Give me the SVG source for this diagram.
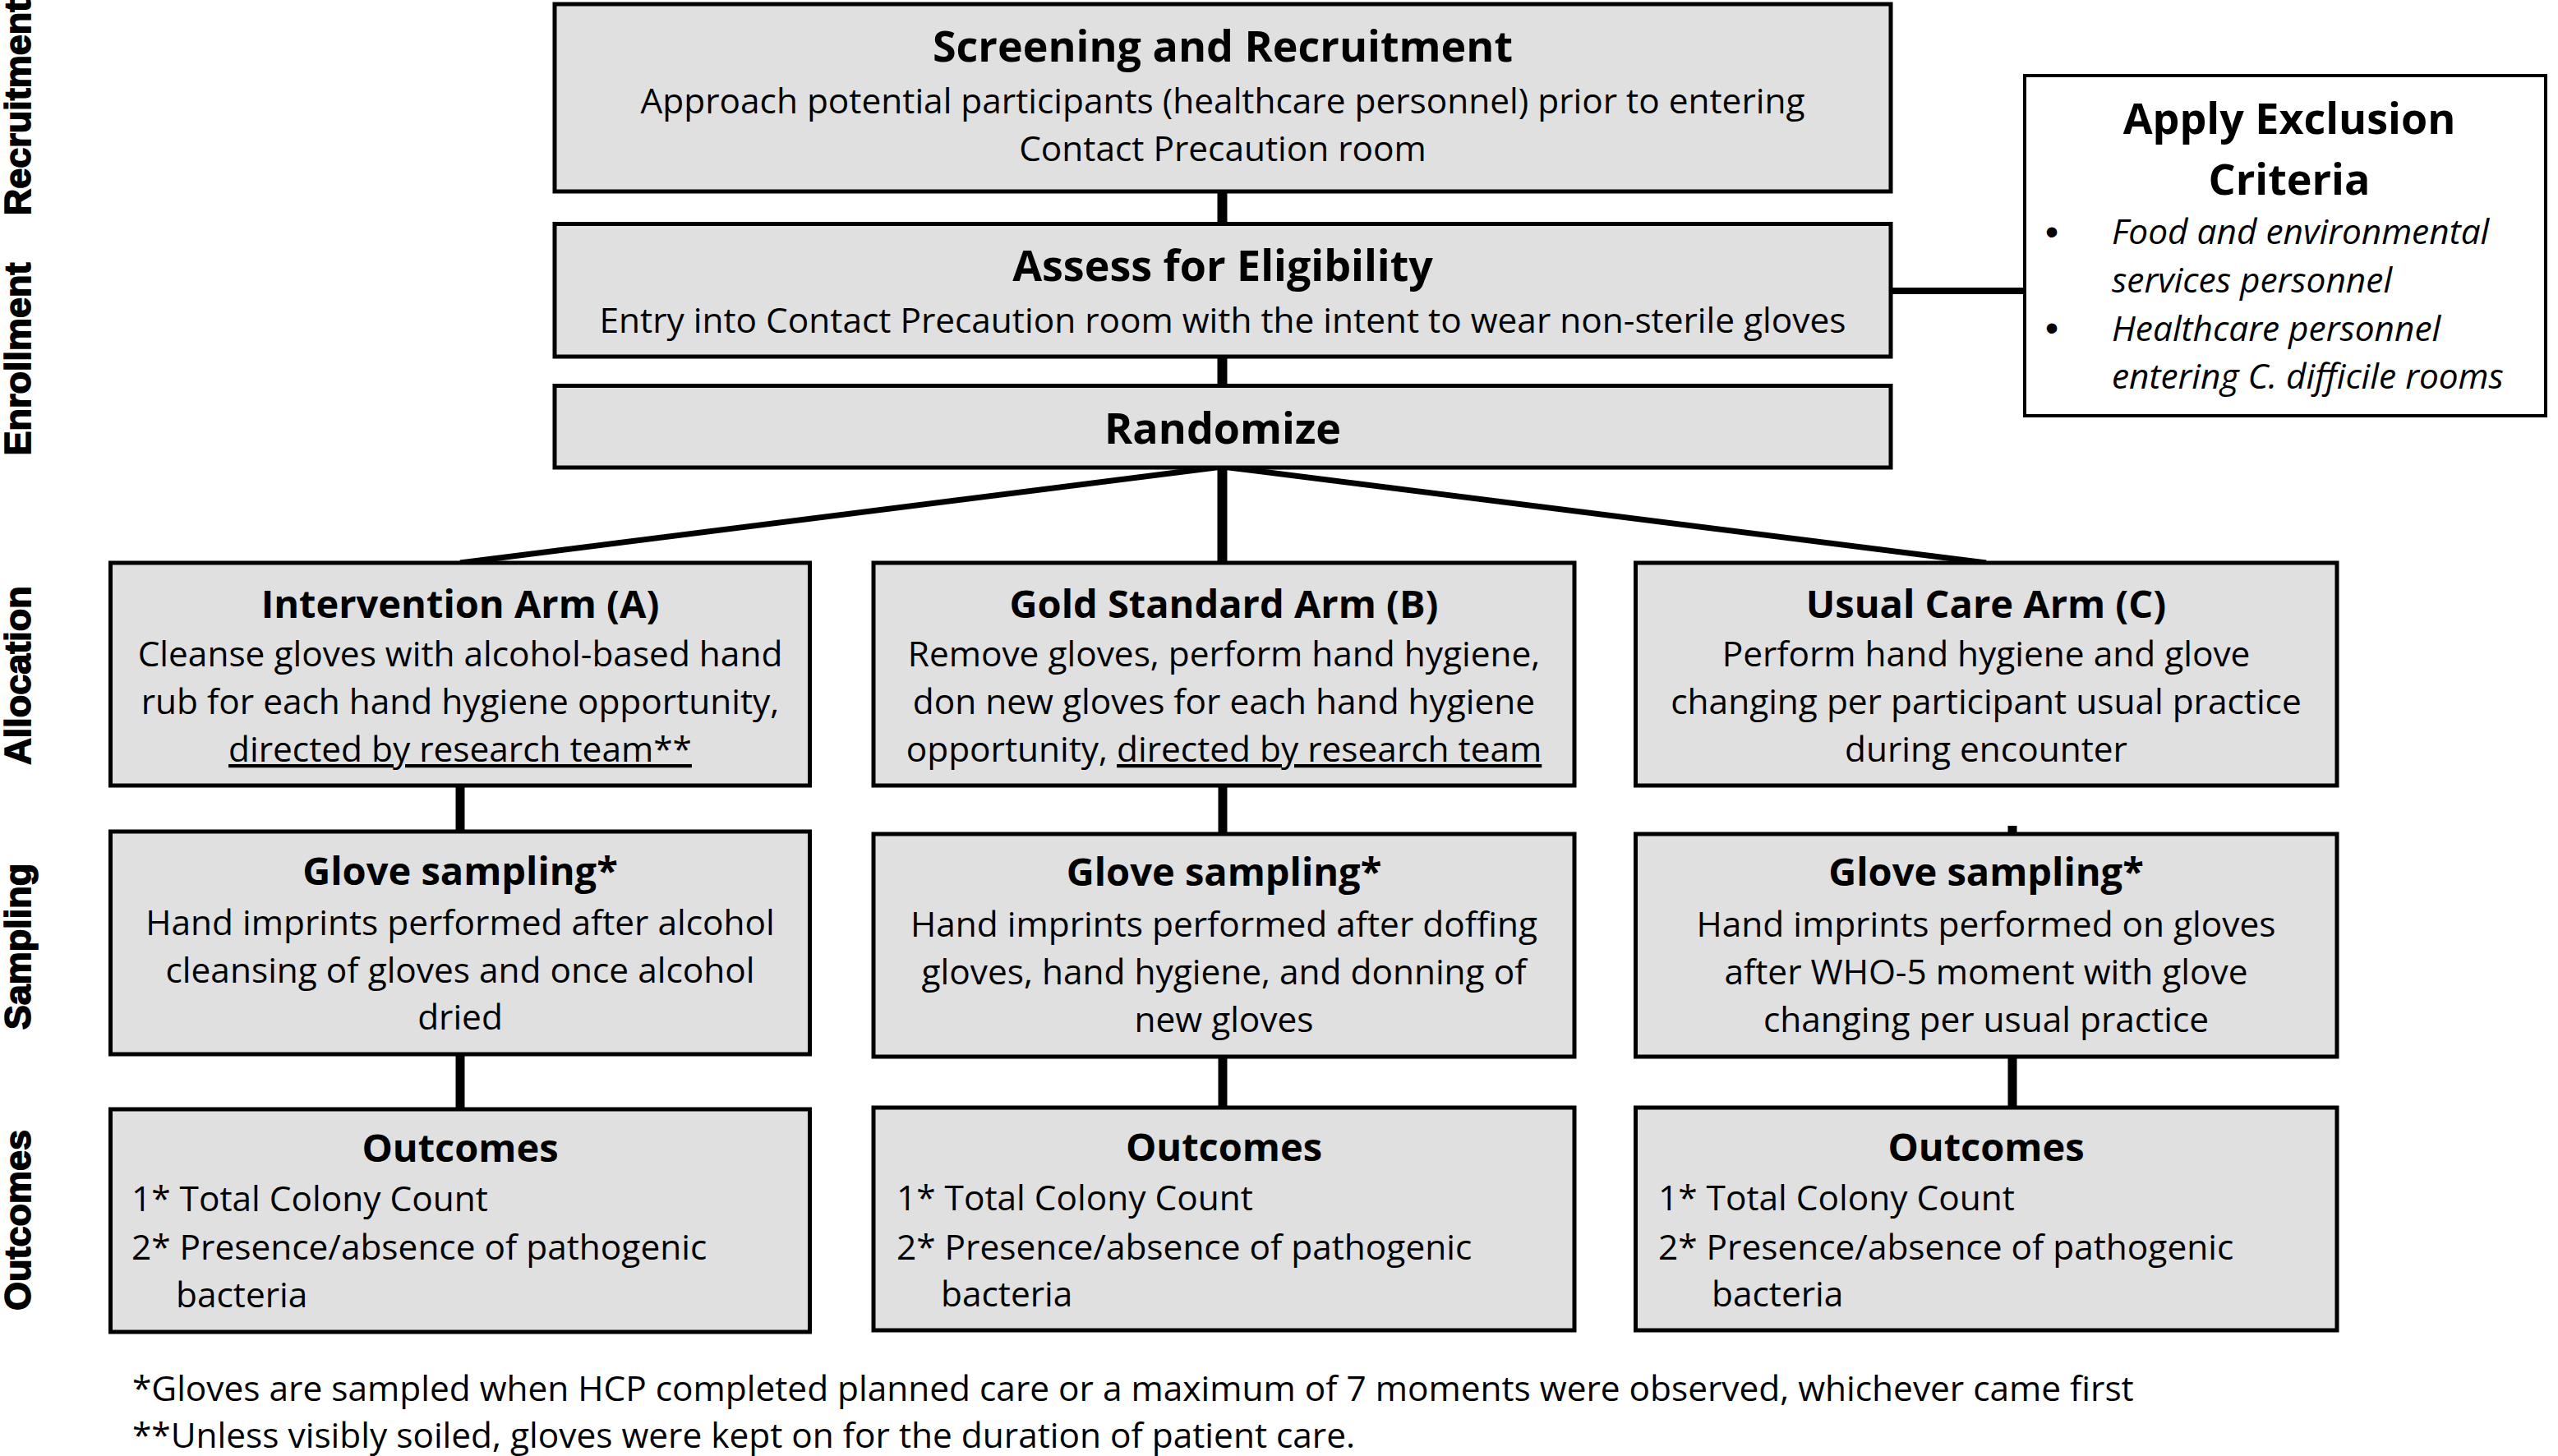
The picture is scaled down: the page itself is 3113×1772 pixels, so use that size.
<svg xmlns="http://www.w3.org/2000/svg" width="3113" height="1772" viewBox="0 0 3113 1772">
<style>
.box{fill:#e0e0e0;stroke:#000;stroke-width:5}
.ex{fill:#fff;stroke:#000;stroke-width:4}
text{font-family:"Open Sans","Noto Sans",sans-serif;fill:#000}
.h1{font-size:52px;font-weight:700;text-anchor:middle}
.h2{font-size:47px;font-weight:700;text-anchor:middle}
.b{font-size:42.4px;text-anchor:middle}
.bl{font-size:42.4px}
.it{font-size:42.4px;font-style:italic}
.dot{font-family:"Liberation Sans",Arial,sans-serif;font-size:46px;text-anchor:middle}
.lab{font-family:"Liberation Sans",Arial,sans-serif;font-size:45px;font-weight:700;text-anchor:middle;stroke:#000;stroke-width:1.6}
.u{text-decoration:underline}
.c{stroke:#000;fill:none}
</style>
<rect width="3113" height="1772" fill="#fff"/>

<g id="stage-labels">
<text class="lab" transform="translate(37,131) rotate(-90)">Recruitment</text>
<text class="lab" transform="translate(37,437) rotate(-90)">Enrollment</text>
<text class="lab" transform="translate(37,822) rotate(-90)">Allocation</text>
<text class="lab" transform="translate(37,1152) rotate(-90)">Sampling</text>
<text class="lab" transform="translate(37,1485) rotate(-90)">Outcomes</text>
</g>

<g id="connectors">
<line class="c" x1="1487.5" y1="233" x2="1487.5" y2="273" stroke-width="12"/>
<line class="c" x1="1487.5" y1="434" x2="1487.5" y2="470" stroke-width="12"/>
<line class="c" x1="2301" y1="354" x2="2464" y2="354" stroke-width="8"/>
<line class="c" x1="1487.5" y1="569" x2="1487.5" y2="685" stroke-width="12"/>
<line class="c" x1="1487.5" y1="568" x2="560" y2="685" stroke-width="7"/>
<line class="c" x1="1487.5" y1="568" x2="2417" y2="685" stroke-width="7"/>
<line class="c" x1="560" y1="956" x2="560" y2="1013" stroke-width="11"/>
<line class="c" x1="560" y1="1284" x2="560" y2="1349" stroke-width="11"/>
<line class="c" x1="1488" y1="956" x2="1488" y2="1015" stroke-width="11"/>
<line class="c" x1="1488" y1="1286" x2="1488" y2="1348" stroke-width="11"/>
<line class="c" x1="2449" y1="1005" x2="2449" y2="1015" stroke-width="11"/>
<line class="c" x1="2449" y1="1286" x2="2449" y2="1348" stroke-width="11"/>
</g>

<g id="screening">
<rect class="box" x="675" y="5" width="1626" height="228"/>
<text class="h1" x="1488" y="75">Screening and Recruitment</text>
<text class="b" x="1488" y="138">Approach potential participants (healthcare personnel) prior to entering</text>
<text class="b" x="1488" y="196">Contact Precaution room</text>
</g>

<g id="eligibility">
<rect class="box" x="675" y="272.5" width="1626" height="161.5"/>
<text class="h1" x="1488" y="342">Assess for Eligibility</text>
<text class="b" x="1488" y="405">Entry into Contact Precaution room with the intent to wear non-sterile gloves</text>
</g>

<g id="randomize">
<rect class="box" x="675" y="469.5" width="1626" height="99.5"/>
<text class="h1" x="1488" y="540">Randomize</text>
</g>

<g id="exclusion">
<rect class="ex" x="2464" y="92" width="634" height="414"/>
<text class="h1" x="2786" y="163">Apply Exclusion</text>
<text class="h1" x="2786" y="237">Criteria</text>
<text class="dot" x="2497" y="298">•</text>
<text class="it" x="2570" y="297">Food and environmental</text>
<text class="it" x="2570" y="356">services personnel</text>
<text class="dot" x="2497" y="415">•</text>
<text class="it" x="2570" y="415">Healthcare personnel</text>
<text class="it" x="2570" y="473">entering C. difficile rooms</text>
</g>

<g id="arm-a">
<rect class="box" x="134.5" y="685" width="851" height="271"/>
<text class="h2" x="560" y="752">Intervention Arm (A)</text>
<text class="b" x="560" y="811">Cleanse gloves with alcohol-based hand</text>
<text class="b" x="560" y="869">rub for each hand hygiene opportunity,</text>
<text class="b" x="560" y="927"><tspan class="u">directed by research team**</tspan></text>
</g>

<g id="arm-b">
<rect class="box" x="1063" y="685" width="853" height="271"/>
<text class="h2" x="1489.5" y="752">Gold Standard Arm (B)</text>
<text class="b" x="1489.5" y="811">Remove gloves, perform hand hygiene,</text>
<text class="b" x="1489.5" y="869">don new gloves for each hand hygiene</text>
<text class="b" x="1489.5" y="927">opportunity, <tspan class="u">directed by research team</tspan></text>
</g>

<g id="arm-c">
<rect class="box" x="1990.5" y="685" width="853.5" height="271"/>
<text class="h2" x="2417" y="752">Usual Care Arm (C)</text>
<text class="b" x="2417" y="811">Perform hand hygiene and glove</text>
<text class="b" x="2417" y="869">changing per participant usual practice</text>
<text class="b" x="2417" y="927">during encounter</text>
</g>

<g id="sampling-a">
<rect class="box" x="134.5" y="1012" width="851" height="271"/>
<text class="h2" x="560" y="1077">Glove sampling*</text>
<text class="b" x="560" y="1138">Hand imprints performed after alcohol</text>
<text class="b" x="560" y="1196">cleansing of gloves and once alcohol</text>
<text class="b" x="560" y="1253">dried</text>
</g>

<g id="sampling-b">
<rect class="box" x="1063" y="1015" width="853" height="271"/>
<text class="h2" x="1489.5" y="1078">Glove sampling*</text>
<text class="b" x="1489.5" y="1140">Hand imprints performed after doffing</text>
<text class="b" x="1489.5" y="1198">gloves, hand hygiene, and donning of</text>
<text class="b" x="1489.5" y="1256">new gloves</text>
</g>

<g id="sampling-c">
<rect class="box" x="1990.5" y="1015" width="853.5" height="271"/>
<text class="h2" x="2417" y="1078">Glove sampling*</text>
<text class="b" x="2417" y="1140">Hand imprints performed on gloves</text>
<text class="b" x="2417" y="1198">after WHO-5 moment with glove</text>
<text class="b" x="2417" y="1256">changing per usual practice</text>
</g>

<g id="outcomes-a">
<rect class="box" x="134.5" y="1350" width="851" height="271"/>
<text class="h2" x="560" y="1414">Outcomes</text>
<text class="bl" x="160" y="1474">1* Total Colony Count</text>
<text class="bl" x="160" y="1533">2* Presence/absence of pathogenic</text>
<text class="bl" x="214" y="1591">bacteria</text>
</g>

<g id="outcomes-b">
<rect class="box" x="1063" y="1348" width="853" height="271"/>
<text class="h2" x="1489.5" y="1413">Outcomes</text>
<text class="bl" x="1091" y="1473">1* Total Colony Count</text>
<text class="bl" x="1091" y="1533">2* Presence/absence of pathogenic</text>
<text class="bl" x="1145" y="1590">bacteria</text>
</g>

<g id="outcomes-c">
<rect class="box" x="1990.5" y="1348" width="853.5" height="271"/>
<text class="h2" x="2417" y="1413">Outcomes</text>
<text class="bl" x="2018" y="1473">1* Total Colony Count</text>
<text class="bl" x="2018" y="1533">2* Presence/absence of pathogenic</text>
<text class="bl" x="2083" y="1590">bacteria</text>
</g>

<g id="footnotes">
<text class="bl" x="161" y="1705">*Gloves are sampled when HCP completed planned care or a maximum of 7 moments were observed, whichever came first</text>
<text class="bl" x="161" y="1762">**Unless visibly soiled, gloves were kept on for the duration of patient care.</text>
</g>
</svg>
